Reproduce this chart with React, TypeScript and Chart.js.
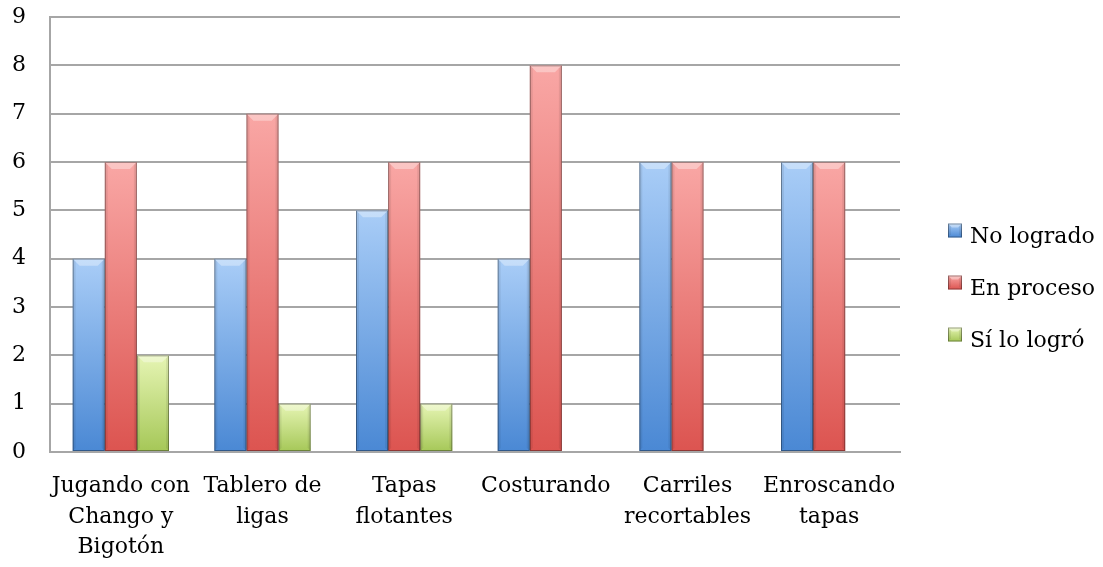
import React, { useEffect, useRef } from "react";
import { Chart, registerables } from "chart.js";

Chart.register(...registerables);

const categories: string[][] = [
  ["Jugando con", "Chango y", "Bigotón"],
  ["Tablero de", "ligas"],
  ["Tapas", "flotantes"],
  ["Costurando"],
  ["Carriles", "recortables"],
  ["Enroscando", "tapas"],
];
const noLogrado = [4, 4, 5, 4, 6, 6];
const enProceso = [6, 7, 6, 8, 6, 6];
const siLoLogro: (number | null)[] = [2, 1, 1, null, null, null];
const yTicks = [0, 1, 2, 3, 4, 5, 6, 7, 8, 9];

const seriesNames = ["No logrado", "En proceso", "Sí lo logró"];
const palette = [
  { top: "#a9cdf7", bottom: "#4a88d4", mid: "#6fa5e6", border: "#3d6fa8" },
  { top: "#f9a7a5", bottom: "#dc5450", mid: "#e87673", border: "#a84442" },
  { top: "#e6f5b4", bottom: "#a5c757", mid: "#c3de7f", border: "#7f9a40" },
];

const FONT = "'DejaVu Serif', serif";

export default function App() {
  const ref = useRef<HTMLCanvasElement | null>(null);
  useEffect(() => {
    if (!ref.current) return;
    const makeBg = (i: number) => (ctx: any) => {
      const chart = ctx.chart;
      const y = chart.scales?.y;
      const p = palette[i];
      if (!y || ctx.raw == null) return p.mid;
      const top = y.getPixelForValue(ctx.raw);
      const bottom = y.getPixelForValue(0);
      if (!isFinite(top) || !isFinite(bottom) || top === bottom) return p.mid;
      const g = chart.ctx.createLinearGradient(0, top, 0, bottom);
      g.addColorStop(0, p.top);
      g.addColorStop(1, p.bottom);
      return g;
    };
    const drawBevel = (c: CanvasRenderingContext2D, l: number, t: number, r: number, b: number, bv: number) => {
      c.save();
      c.fillStyle = "rgba(255,255,255,0.35)";
      c.beginPath();
      c.moveTo(l, t);
      c.lineTo(r, t);
      c.lineTo(r - bv, t + bv);
      c.lineTo(l + bv, t + bv);
      c.closePath();
      c.fill();
      c.fillStyle = "rgba(0,0,0,0.07)";
      c.beginPath();
      c.moveTo(l, t);
      c.lineTo(l + 3, t + 3);
      c.lineTo(l + 3, b - 3);
      c.lineTo(l, b);
      c.closePath();
      c.fill();
      c.beginPath();
      c.moveTo(r, t);
      c.lineTo(r - 3, t + 3);
      c.lineTo(r - 3, b - 3);
      c.lineTo(r, b);
      c.closePath();
      c.fill();
      c.strokeStyle = "rgba(0,0,0,0.35)";
      c.lineWidth = 1;
      c.strokeRect(l + 0.5, t + 0.5, r - l - 1, b - t - 1);
      c.restore();
    };
    const bevel = {
      id: "bevel",
      afterDatasetsDraw(chart: any) {
        const c = chart.ctx;
        chart.data.datasets.forEach((_: any, di: number) => {
          const meta = chart.getDatasetMeta(di);
          meta.data.forEach((el: any, idx: number) => {
            const v = chart.data.datasets[di].data[idx];
            if (v == null || v === 0) return;
            const { x, y, base, width } = el.getProps(["x", "y", "base", "width"], true);
            drawBevel(c, x - width / 2, y, x + width / 2, base, 7);
          });
        });
      },
    };
    const legendPlugin = {
      id: "customLegend",
      afterDraw(chart: any) {
        const c = chart.ctx as CanvasRenderingContext2D;
        const boxX = 948;
        const textX = 970;
        const baselines = [242.5, 294.5, 346.5];
        c.save();
        c.font = `22px ${FONT}`;
        c.textBaseline = "alphabetic";
        c.textAlign = "left";
        seriesNames.forEach((n, i) => {
          const p = palette[i];
          const by = baselines[i] - 19;
          const g = c.createLinearGradient(0, by, 0, by + 14);
          g.addColorStop(0, p.top);
          g.addColorStop(1, p.bottom);
          c.fillStyle = g;
          c.fillRect(boxX, by, 14, 14);
          drawBevel(c, boxX, by, boxX + 14, by + 14, 4);
          c.fillStyle = "#000";
          c.fillText(n, textX, baselines[i]);
        });
        c.restore();
      },
    };
    const chart = new Chart(ref.current, {
      type: "bar",
      data: {
        labels: categories,
        datasets: [noLogrado, enProceso, siLoLogro].map((d, i) => ({
          label: seriesNames[i],
          data: d,
          backgroundColor: makeBg(i),
          borderWidth: 0,
          categoryPercentage: 0.68,
          barPercentage: 1,
        })),
      },
      options: {
        animation: false,
        responsive: true,
        maintainAspectRatio: false,
        layout: { padding: { top: 17, right: 203, bottom: 5, left: 12 } },
        plugins: {
          tooltip: { enabled: false },
          legend: { display: false },
        },
        scales: {
          x: {
            grid: { display: false, drawTicks: false },
            border: { display: true, color: "#a6a6a6", width: 2 },
            afterFit: (s: any) => {
              s.paddingLeft = 0;
              s.paddingRight = 0;
              s.height = 110;
            },
            ticks: {
              font: { family: FONT, size: 22, lineHeight: 1.39 },
              color: "#000",
              maxRotation: 0,
              autoSkip: false,
              padding: 19,
            },
          },
          y: {
            min: 0,
            max: 9,
            afterBuildTicks: (s: any) => {
              s.ticks = yTicks.map((v) => ({ value: v }));
            },
            afterFit: (s: any) => {
              s.paddingTop = 0;
              s.paddingBottom = 0;
              s.width = 38;
            },
            grid: { color: "#a6a6a6", lineWidth: 2, drawTicks: false },
            border: { display: true, color: "#a6a6a6", width: 2 },
            ticks: {
              font: { family: FONT, size: 22 },
              color: "#000",
              padding: 24,
            },
          },
        },
      },
      plugins: [bevel, legendPlugin],
    });
    return () => chart.destroy();
  }, []);
  return (
    <div style={{ position: "fixed", left: 0, top: 0, width: 1103, height: 567, background: "#fff" }}>
      <canvas ref={ref} />
    </div>
  );
}
